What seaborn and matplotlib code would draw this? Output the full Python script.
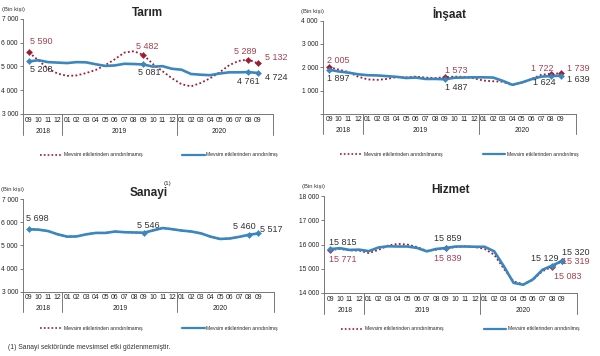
import numpy as np
import pandas as pd
import seaborn as sns
import matplotlib.pyplot as plt
import matplotlib.transforms as mtransforms
from matplotlib.lines import Line2D

# months from 2018-09 to 2020-09
months = ['09', '10', '11', '12',
          '01', '02', '03', '04', '05', '06', '07', '08', '09', '10', '11', '12',
          '01', '02', '03', '04', '05', '06', '07', '08', '09']
years = ['2018', '2019', '2020']
year_span = [(0, 3), (4, 15), (16, 24)]

# Tarım
tarim_raw = [5590, 5250, 4900, 4700, 4600, 4620, 4720, 4850, 5050, 5300, 5580, 5640, 5482,
             5100, 4800, 4500, 4250, 4160, 4300, 4500, 4750, 5050, 5230, 5289, 5132]
tarim_adj = [5208, 5260, 5180, 5160, 5140, 5180, 5170, 5090, 5020, 5040, 5110, 5100, 5081,
             4990, 5010, 4900, 4860, 4680, 4650, 4630, 4700, 4750, 4750, 4761, 4724]

# İnşaat
insaat_raw = [2005, 1900, 1800, 1600, 1480, 1460, 1500, 1580, 1570, 1600, 1560, 1540, 1573,
              1600, 1590, 1530, 1430, 1400, 1380, 1230, 1350, 1500, 1680, 1722, 1739]
insaat_adj = [1897, 1820, 1770, 1700, 1660, 1650, 1620, 1590, 1540, 1560, 1500, 1500, 1487,
              1550, 1560, 1570, 1570, 1560, 1420, 1250, 1350, 1490, 1600, 1624, 1639]

# Sanayi (no seasonal effect)
sanayi_adj = [5698, 5680, 5620, 5480, 5380, 5390, 5480, 5540, 5540, 5600, 5570, 5560, 5546,
              5650, 5750, 5700, 5640, 5600, 5520, 5380, 5280, 5300, 5370, 5460, 5517]
sanayi_raw = sanayi_adj

# Hizmet
hizmet_raw = [15771, 15820, 15760, 15750, 15650, 15780, 15960, 16030, 16000, 15900, 15740, 15790, 15839,
              15900, 15930, 15900, 15820, 15580, 15000, 14480, 14360, 14540, 14900, 15083, 15319]
hizmet_adj = [15815, 15850, 15780, 15790, 15730, 15880, 15930, 15920, 15920, 15860, 15720, 15820, 15859,
              15920, 15920, 15910, 15910, 15720, 15100, 14420, 14340, 14560, 14960, 15129, 15320]

marked = [0, 12, 23, 24]

RED = '#9E1B32'
RED_TXT = '#A6404F'
BLUE = '#3A87C0'
DARK = '#333333'

sns.set_theme(style="white")
plt.rcParams['font.family'] = ['Liberation Sans', 'DejaVu Sans']

fig = plt.figure(figsize=(6, 3.56), dpi=100)


def fmt(v):
    return f"{v:,}".replace(",", " ")


def panel(rect, title, raw, adj, ylim, yticks, ylabels, raw_off, adj_off,
          show_raw_labels=True, leg_y=-0.43):
    ax = fig.add_axes(rect)
    x = np.arange(len(months))
    df = pd.DataFrame({'x': x, 'raw': raw, 'adj': adj})
    sns.lineplot(data=df, x='x', y='raw', color=RED, lw=1.3, linestyle=(0, (1, 1.3)), ax=ax)
    sns.lineplot(data=df, x='x', y='adj', color=BLUE, lw=1.9, ax=ax)
    dm = df.iloc[marked]
    if show_raw_labels:
        sns.scatterplot(data=dm, x='x', y='raw', color=RED, marker='D', s=10,
                        edgecolor=RED, ax=ax, zorder=4)
    sns.scatterplot(data=dm, x='x', y='adj', color=BLUE, marker='D', s=10,
                    edgecolor=BLUE, ax=ax, zorder=5)
    for k, i in enumerate(marked):
        if show_raw_labels:
            ax.annotate(fmt(raw[i]), (i, raw[i]), xytext=raw_off[k], textcoords='offset points',
                        ha='center', va='center', fontsize=6.5, color=RED_TXT)
        ax.annotate(fmt(adj[i]), (i, adj[i]), xytext=adj_off[k], textcoords='offset points',
                    ha='center', va='center', fontsize=6.5, color=DARK)

    ax.set_xlim(-0.65, 25.6)
    ax.set_ylim(*ylim)
    ax.set_yticks(yticks)
    ax.set_yticklabels(ylabels, fontsize=4.8, color='#222222')
    ax.tick_params(axis='y', length=2, width=0.6, pad=1.5, color='#666666', left=True)
    ax.set_xticks([])
    ax.set_xlabel('')
    ax.set_ylabel('')
    for s in ['top', 'right']:
        ax.spines[s].set_visible(False)
    for s in ['left', 'bottom']:
        ax.spines[s].set_color('#777777')
        ax.spines[s].set_linewidth(0.7)

    tr = mtransforms.blended_transform_factory(ax.transData, ax.transAxes)
    for i, m in enumerate(months):
        ax.text(i, -0.065, m, transform=tr, ha='center', va='center', fontsize=4.9, color='#222222')
    for (a, b), yr in zip(year_span, years):
        ax.text((a + b) / 2, -0.18, yr, transform=tr, ha='center', va='center',
                fontsize=4.9, color='#222222')
    for xv in [-0.65, 3.5, 15.5, 25.6]:
        ax.plot([xv, xv], [0, -0.22], transform=tr, color='#777777', lw=0.7, clip_on=False)

    ax.set_title(title, fontsize=8.5, fontweight='bold', pad=2)
    ax.text(-0.085, 1.07, '(Bin kişi)', transform=ax.transAxes, fontsize=4.2, color='#333333',
            ha='left', va='bottom')

    # legend
    handles = [Line2D([], [], color=RED, lw=1.2, linestyle=(0, (1, 1.3))),
               Line2D([], [], color=BLUE, lw=1.6)]
    ax.legend(handles, ['Mevsim etkilerinden arındırılmamış', 'Mevsim etkilerinden arındırılmış'],
              loc='center left', bbox_to_anchor=(0.05, leg_y), ncol=2, frameon=False,
              fontsize=3.6, handlelength=4.5, handletextpad=0.3, columnspacing=8)
    return ax


panel([0.038, 0.680, 0.417, 0.267], 'Tarım', tarim_raw, tarim_adj,
      (3000, 7000), [3000, 4000, 5000, 6000, 7000], ['3 000', '4 000', '5 000', '6 000', '7 000'],
      raw_off=[(9, 7.5), (2.5, 6), (-2, 6), (13.5, 4.5)],
      adj_off=[(9, -5.5), (4, -6), (0, -6.5), (13.5, -3)])

panel([0.538, 0.680, 0.422, 0.262], 'İnşaat', insaat_raw, insaat_adj,
      (0, 4000), [0, 1000, 2000, 3000, 4000], ['', '1 000', '2 000', '3 000', '4 000'],
      raw_off=[(6.5, 5), (8.5, 5), (-6.5, 3.5), (13, 3.7)],
      adj_off=[(6.5, -6.5), (8.5, -6), (-4.5, -5), (13, -3)])

panel([0.038, 0.180, 0.418, 0.261], 'Sanayi', sanayi_raw, sanayi_adj,
      (3000, 7000), [3000, 4000, 5000, 6000, 7000], ['3 000', '4 000', '5 000', '6 000', '7 000'],
      raw_off=[(0, 0)] * 4, adj_off=[(6, 8), (3.5, 5.3), (-3, 6), (9.5, 2.7)],
      show_raw_labels=False, leg_y=-0.39)

panel([0.540, 0.177, 0.422, 0.272], 'Hizmet', hizmet_raw, hizmet_adj,
      (14000, 18000), [14000, 15000, 16000, 17000, 18000],
      ['14 000', '15 000', '16 000', '17 000', '18 000'],
      raw_off=[(9, -6.5), (1, -7), (11, -7), (10, 0)],
      adj_off=[(9, 5), (1, 6.5), (-5, 5.5), (10, 6.5)], leg_y=-0.37)

# superscript on Sanayi title
fig.text(0.273, 0.478, '(1)', fontsize=4.5, ha='left', va='bottom')

fig.text(0.013, 0.015, '(1) Sanayi sektöründe mevsimsel etki gözlenmemiştir.', fontsize=4.9,
         color='#333333', ha='left', va='bottom')

fig.savefig('out.png', dpi=100)
